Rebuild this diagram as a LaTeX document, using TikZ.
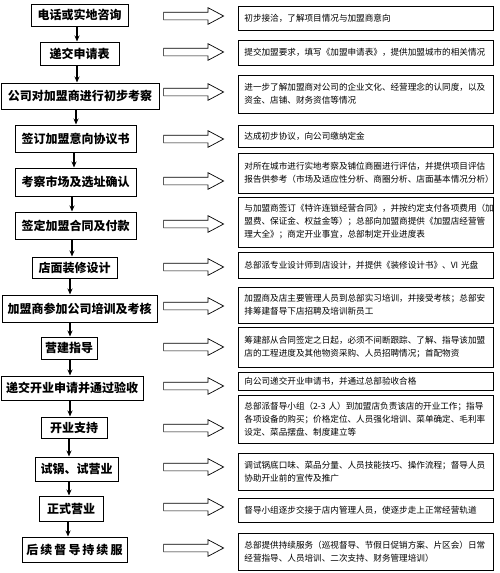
\documentclass[tikz,border=0pt]{standalone}
\usepackage{fontspec}
\newfontfamily\cjk{Noto Sans CJK SC}
\usetikzlibrary{arrows.meta,shapes.arrows}
\tikzset{
  stepbox/.style={draw, line width=1pt, inner sep=0pt,
    font=\cjk\bfseries\fontsize{12}{14}\selectfont},
  infobox/.style={draw, line width=0.8pt, anchor=west, align=left,
    text width=243pt, inner xsep=6pt, inner ysep=0pt,
    font=\cjk\fontsize{8.6}{13}\selectfont},
  hollow/.style={single arrow, draw, line width=0.7pt, minimum height=60pt,
    inner sep=3.5pt, single arrow head extend=4.5pt, single arrow tip angle=56},
  flow/.style={line width=1.2pt, -{Stealth[length=6pt,width=5pt]}}
}
\begin{document}
\begin{tikzpicture}[x=1pt,y=-1pt]
\useasboundingbox[fill=white] (0,0) rectangle (500,573);

% steps on the left
\foreach \i/\x/\y/\w/\h/\t in {
  1/79.5/15/97/22/{电话或实地咨询},
  2/79.5/53.5/79/23/{递交申请表},
  3/80/96/158/26/{公司对加盟商进行初步考察},
  4/75.5/138.5/121/27/{签订加盟意向协议书},
  5/75.5/182/121/28/{考察市场及选址确认},
  6/75.5/225.5/121/27/{签定加盟合同及付款},
  7/74.5/267.5/85/21/{店面装修设计},
  8/79.5/308.5/155/27/{加盟商参加公司培训及考核},
  9/69/348/56/22/{营建指导},
  10/72/388/142/24/{递交开业申请并通过验收},
  11/74/427.5/66/21/{开业支持},
  12/76.5/469/83/24/{试锅、试营业},
  13/71/508.5/64/25/{正式营业},
  14/74.5/549.5/105/25/{后\,续\,督\,导\,持\,续\,服}}
{
  \node[stepbox, minimum width=\w pt, minimum height=\h pt] (l\i) at (\x,\y) {\t};
}

% arrows down the steps
\foreach \a/\b/\x in {1/2/77, 2/3/77, 3/4/76, 4/5/74, 5/6/72, 6/7/72,
  7/8/70, 8/9/70, 9/10/70, 10/11/70, 11/12/69, 12/13/69, 13/14/68}
{
  \coordinate (c\a) at (\x,0);
  \draw[flow] (l\a.south -| c\a) -- (l\b.north -| c\a);
}

% hollow arrows
\foreach \i/\y in {1/16, 2/52, 3/92, 4/139, 5/181, 6/224, 7/267,
  8/306, 9/347, 10/386, 11/428, 12/467, 13/507, 14/548}
{
  \node[hollow] (h\i) at (190,\y) {};
}

% notes on the right
\foreach \i/\y/\h/\t in {
  1/18/24/{初步接洽，了解项目情况与加盟商意向},
  2/52.5/25/{提交加盟要求，填写《加盟申请表》，提供加盟城市的相关情况},
  3/94/38/{进一步了解加盟商对公司的企业文化、经营理念的认同度，以及\\资金、店铺、财务资信等情况},
  4/136/22/{达成初步协议，向公司缴纳定金},
  5/173/40/{对所在城市进行实地考察及铺位商圈进行评估，并提供项目评估\\报告供参考（市场及适应性分析、商圈分析、店面基本情况分析）},
  6/222/50/{与加盟商签订《特许连锁经营合同》，并按约定支付各项费用（加\\盟费、保证金、权益金等）；总部向加盟商提供《加盟店经营管\\理大全》；商定开业事宜，总部制定开业进度表},
  7/265/26/{总部派专业设计师到店设计，并提供《装修设计书》、VI 光盘},
  8/305/36/{加盟商及店主要管理人员到总部实习培训，并接受考核；总部安\\排筹建督导下店招聘及培训新员工},
  9/347/40/{筹建部从合同签定之日起，必须不间断跟踪、了解、指导该加盟\\店的工程进度及其他物资采购、人员招聘情况；首配物资},
  10/381/18/{向公司递交开业申请书，并通过总部验收合格},
  11/419/48/{总部派督导小组（2-3 人）到加盟店负责该店的开业工作；指导\\各项设备的购买；价格定位、人员强化培训、菜单确定、毛利率\\设定、菜品摆盘、制度建立等},
  12/471.5/37/{调试锅底口味、菜品分量、人员技能技巧、操作流程；督导人员\\协助开业前的宣传及推广},
  13/510/24/{督导小组逐步交接于店内管理人员，使逐步走上正常经营轨道},
  14/551.5/37/{总部提供持续服务（巡视督导、节假日促销方案、片区会）日常\\经营指导、人员培训、二次支持、财务管理培训）}}
{
  \node[infobox, minimum height=\h pt] (r\i) at (238,\y) {\t};
}
\end{tikzpicture}
\end{document}
